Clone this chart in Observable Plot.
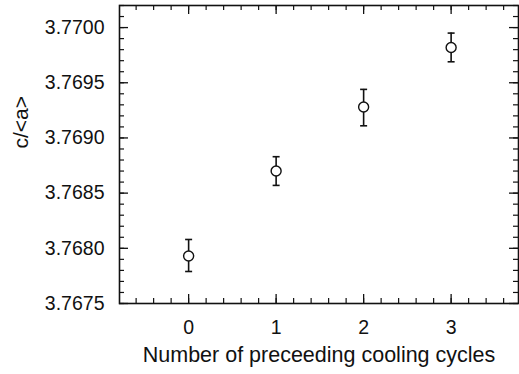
<!DOCTYPE html>
<html>
<head>
<meta charset="utf-8">
<script src="https://cdn.jsdelivr.net/npm/d3@7"></script>
<script src="https://cdn.jsdelivr.net/npm/@observablehq/plot@0.6"></script>
<style>
  html, body { margin: 0; padding: 0; background: #fff; }
  #chart svg { display: block; }
</style>
</head>
<body>
<div id="chart"></div>
<script>
// ---- data ----
const cycles = [0, 1, 2, 3];
const ratio = [3.76793, 3.76870, 3.76928, 3.76982];
const ratioLow = [3.76779, 3.76857, 3.76911, 3.76969];
const ratioHigh = [3.76808, 3.76883, 3.76944, 3.76995];
const xTicks = [0, 1, 2, 3];
const yTicks = [3.7675, 3.7680, 3.7685, 3.7690, 3.7695, 3.7700];
const xLabel = "Number of preceeding cooling cycles";
const yLabel = "c/<a>";

const data = cycles.map((c, i) => ({c, v: ratio[i], lo: ratioLow[i], hi: ratioHigh[i]}));

const W = 519, H = 374;
const mL = 119, mR = 1, mT = 5, mB = 71;
const fw = W - mL - mR, fh = H - mT - mB;
const xDomain = [-0.79, 3.77];
const yDomain = [3.7675, 3.7702];
const xMinor = d3.range(-4, 19).map(i => i * 0.2).filter(d => d >= xDomain[0] && d <= xDomain[1]);
const yMinor = d3.range(0, 28).map(i => +(3.7675 + i * 0.0001).toFixed(4));
const MAJ = 9, MIN = 5;
const ink = "#111";
const fmt = d3.format(".4f");

const capSymbol = {
  draw(ctx, size) {
    const r = Math.sqrt(size / Math.PI);
    ctx.moveTo(-r, 0);
    ctx.lineTo(r, 0);
  }
};

const chart = Plot.plot({
  width: W,
  height: H,
  marginLeft: mL, marginRight: mR, marginTop: mT, marginBottom: mB,
  style: {fontFamily: "'Liberation Sans', Arial, Helvetica, sans-serif", fontSize: "20px", color: ink, background: "#fff"},
  x: {domain: xDomain, axis: null},
  y: {domain: yDomain, axis: null},
  marks: [
    // inward ticks on all four sides
    Plot.tickY(yTicks, {y: d => d, insetRight: fw - MAJ, stroke: ink, strokeWidth: 1.3}),
    Plot.tickY(yTicks, {y: d => d, insetLeft: fw - MAJ, stroke: ink, strokeWidth: 1.3}),
    Plot.tickY(yMinor, {y: d => d, insetRight: fw - MIN, stroke: ink, strokeWidth: 1.2}),
    Plot.tickY(yMinor, {y: d => d, insetLeft: fw - MIN, stroke: ink, strokeWidth: 1.2}),
    Plot.tickX(xTicks, {x: d => d, insetTop: fh - MAJ, stroke: ink, strokeWidth: 1.3}),
    Plot.tickX(xTicks, {x: d => d, insetBottom: fh - MAJ, stroke: ink, strokeWidth: 1.3}),
    Plot.tickX(xMinor, {x: d => d, insetTop: fh - MIN, stroke: ink, strokeWidth: 1.2}),
    Plot.tickX(xMinor, {x: d => d, insetBottom: fh - MIN, stroke: ink, strokeWidth: 1.2}),
    Plot.frame({stroke: ink, strokeWidth: 1.6}),
    // tick labels
    Plot.text(xTicks, {x: d => d, text: d => String(d), frameAnchor: "bottom", dy: 17, lineAnchor: "top", fontSize: 19.5, fill: ink}),
    Plot.text(yTicks, {y: d => d, text: d => fmt(d), frameAnchor: "left", dx: -15, textAnchor: "end", fontSize: 19.5, fill: ink}),
    // axis labels
    Plot.text([xLabel], {frameAnchor: "bottom", dy: 58, lineAnchor: "bottom", fontSize: 21.5, fill: ink}),
    Plot.text([yLabel], {frameAnchor: "left", dx: -92, dy: -6, rotate: -90, lineAnchor: "bottom", fontSize: 21, fill: ink}),
    // error bars
    Plot.ruleX(data, {x: "c", y1: "lo", y2: "hi", stroke: ink, strokeWidth: 1.6}),
    Plot.dot(data, {x: "c", y: "lo", symbol: capSymbol, r: 3.5, stroke: ink, strokeWidth: 1.6}),
    Plot.dot(data, {x: "c", y: "hi", symbol: capSymbol, r: 3.5, stroke: ink, strokeWidth: 1.6}),
    // points
    Plot.dot(data, {x: "c", y: "v", r: 5, stroke: ink, fill: "#fff", strokeWidth: 1.4})
  ]
});
document.getElementById("chart").appendChild(chart);
</script>
</body>
</html>
